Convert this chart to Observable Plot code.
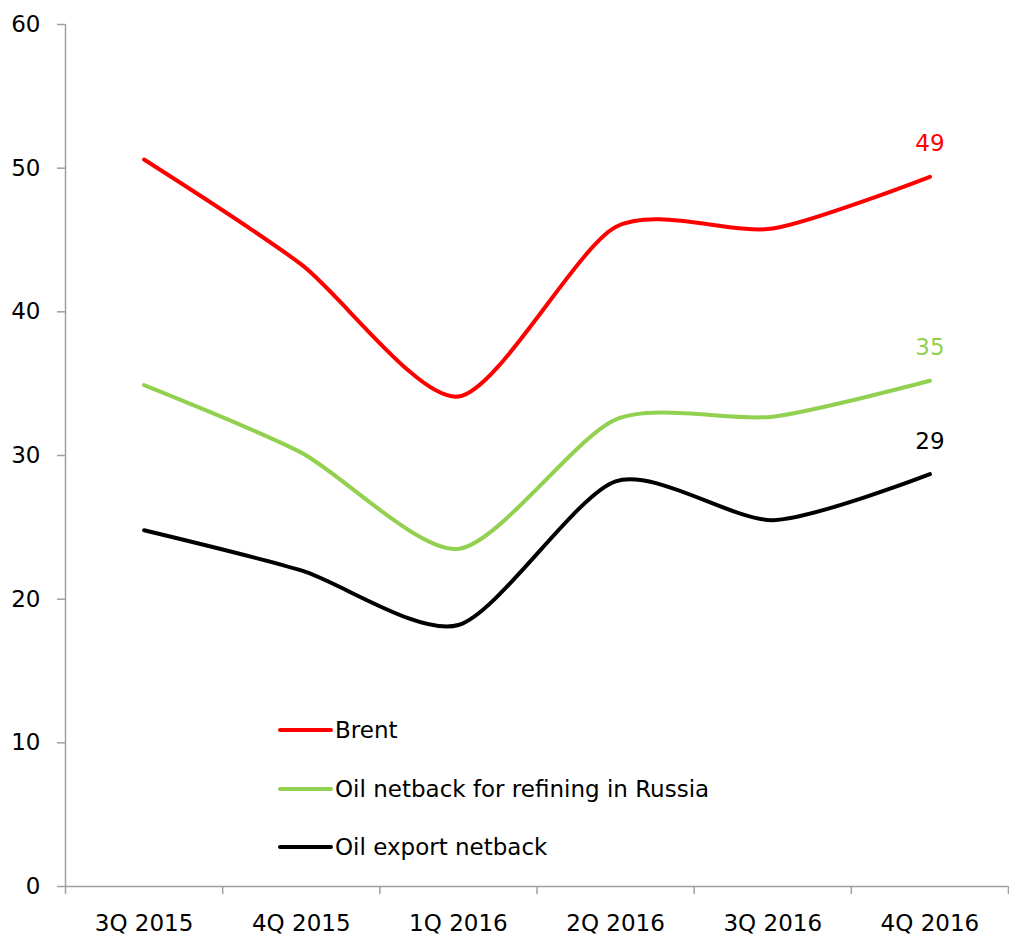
<!DOCTYPE html>
<html>
<head>
<meta charset="utf-8">
<script src="https://cdn.jsdelivr.net/npm/d3@7"></script>
<script src="https://cdn.jsdelivr.net/npm/@observablehq/plot@0.6"></script>
<style>
  html, body { margin: 0; padding: 0; background: #fff; }
  #wrap { position: relative; width: 1009px; height: 936px; font-family: "DejaVu Sans", Verdana, sans-serif; }
  #legend { position: absolute; left: 278px; top: 713px; font-size: 23px; color: #000; }
  .item { display: flex; align-items: center; height: 34px; margin-bottom: 24.5px; }
  .swatch { width: 55px; height: 4px; border-radius: 2px; margin-right: 2px; }
</style>
</head>
<body>
<div id="wrap"></div>
<script>
const quarters = ["3Q 2015", "4Q 2015", "1Q 2016", "2Q 2016", "3Q 2016", "4Q 2016"];
const seriesNames = ["Brent", "Oil netback for refining in Russia", "Oil export netback"];
const brent = [50.6, 43.3, 34.1, 45.9, 45.8, 49.4];
const refiningNetback = [34.9, 30.2, 23.5, 32.5, 32.7, 35.2];
const exportNetback = [24.8, 22.0, 18.2, 28.2, 25.5, 28.7];
const colors = ["#FF0000", "#92D050", "#000000"];
const yTicks = [0, 10, 20, 30, 40, 50, 60];

const seriesValues = [brent, refiningNetback, exportNetback];
const data = seriesValues.flatMap((vals, s) =>
  vals.map((v, i) => ({series: seriesNames[s], i, q: quarters[i], value: v}))
);
const lastPoints = seriesValues.map((vals, s) => ({
  series: seriesNames[s], i: vals.length - 1, value: vals[vals.length - 1],
  label: String(Math.round(vals[vals.length - 1]))
}));
const boundaries = d3.range(-0.5, quarters.length, 1);
const gray = "#A0A0A0";

const chart = Plot.plot({
  width: 1009,
  height: 936,
  marginLeft: 65,
  marginRight: 1,
  marginTop: 24,
  marginBottom: 50,
  style: {fontFamily: "'DejaVu Sans', Verdana, sans-serif", fontSize: "23px", color: "#000", background: "#fff"},
  x: {domain: [-0.5, quarters.length - 0.5]},
  y: {domain: [0, 60]},
  color: {domain: seriesNames, range: colors},
  marks: [
    Plot.ruleX([-0.5], {y1: 0, y2: 60, stroke: gray, strokeWidth: 1.5}),
    Plot.ruleY([0], {stroke: gray, strokeWidth: 1.5}),
    Plot.axisY({ticks: yTicks, tickSize: 8, tickPadding: 17, stroke: gray, strokeWidth: 1.5, label: null, fill: "#000"}),
    Plot.axisX({ticks: boundaries, tickSize: 8, tickFormat: () => "", stroke: gray, strokeWidth: 1.5, label: null}),
    Plot.axisX({ticks: d3.range(quarters.length), tickSize: 0, tickPadding: 28, tickFormat: (d) => quarters[d], label: null, fill: "#000"}),
    Plot.line(data, {x: "i", y: "value", z: "series", stroke: "series", strokeWidth: 4, curve: "cardinal", tension: 0.25, strokeLinecap: "round"}),
    Plot.text(lastPoints, {x: "i", y: "value", text: "label", fill: "series", dy: -33, fontSize: 23})
  ]
});

const wrap = document.getElementById("wrap");
wrap.appendChild(chart);

const legend = document.createElement("div");
legend.id = "legend";
seriesNames.forEach((name, s) => {
  const item = document.createElement("div");
  item.className = "item";
  const sw = document.createElement("div");
  sw.className = "swatch";
  sw.style.background = colors[s];
  const label = document.createElement("span");
  label.textContent = name;
  item.appendChild(sw);
  item.appendChild(label);
  legend.appendChild(item);
});
wrap.appendChild(legend);
</script>
</body>
</html>
